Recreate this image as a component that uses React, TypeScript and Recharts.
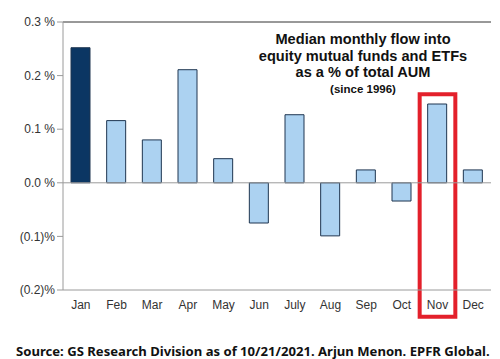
import React from "react"
import { BarChart, Bar, Cell, XAxis, YAxis, ReferenceLine, ReferenceArea } from "recharts"

const months = ["Jan", "Feb", "Mar", "Apr", "May", "Jun", "July", "Aug", "Sep", "Oct", "Nov", "Dec"]
const flows = [0.252, 0.116, 0.08, 0.211, 0.045, -0.075, 0.127, -0.099, 0.024, -0.034, 0.147, 0.024]
const yTicks = [-0.2, -0.1, 0, 0.1, 0.2, 0.3]
const yTickLabels = ["(0.2)%", "(0.1)%", "0.0 %", "0.1 %", "0.2 %", "0.3 %"]
const highlightMonth = "Nov"
const highlightRange = [-0.25, 0.165] // red box extends below the axis

const data = months.map((m, i) => ({ month: m, value: flows[i] }))

const fmtY = (v: number) => {
  const i = yTicks.findIndex((t) => Math.abs(t - v) < 1e-9)
  return i >= 0 ? yTickLabels[i] : ""
}

export default function App() {
  return (
    <div style={{ position: "absolute", left: 0, top: 0, width: 500, height: 359, background: "#fff", fontFamily: "'Liberation Sans', Arial, sans-serif", overflow: "hidden" }}>
      <BarChart width={500} height={359} data={data} margin={{ top: 22, right: 9, bottom: 39, left: 0 }} barSize={19}>
        <XAxis
          dataKey="month"
          axisLine={{ stroke: "#9a9a9a" }}
          tickLine={false}
          tick={{ fill: "#333", fontSize: 12, dy: 2 }}
          height={30}
          interval={0}
        />
        <YAxis
          domain={[-0.2, 0.3]}
          ticks={yTicks}
          tickFormatter={fmtY}
          width={63}
          axisLine={{ stroke: "#9a9a9a" }}
          tickLine={{ stroke: "#9a9a9a" }}
          tick={{ fill: "#333", fontSize: 12 }}
          tickSize={6}
        />
        <YAxis yAxisId="right" orientation="right" width={0} axisLine={{ stroke: "#9a9a9a" }} tick={false} tickLine={false} />
        <ReferenceLine y={0.3} stroke="#333" strokeWidth={1} />
        <ReferenceLine y={0} stroke="#9a9a9a" strokeWidth={1} />
        <Bar dataKey="value" isAnimationActive={false} stroke="#1e3550" strokeWidth={1}>
          {data.map((d, i) => (
            <Cell key={`c-${i}`} fill={i === 0 ? "#0b3663" : "#acd2f1"} />
          ))}
        </Bar>
        <ReferenceArea
          x1={highlightMonth}
          x2={highlightMonth}
          y1={highlightRange[0]}
          y2={highlightRange[1]}
          ifOverflow="visible"
          fill="none"
          stroke="#e3202b"
          strokeWidth={4}
        />
      </BarChart>
      <div
        style={{
          position: "absolute",
          left: 253,
          width: 220,
          top: 31,
          textAlign: "center",
          fontWeight: "bold",
          fontSize: 14.6,
          lineHeight: "16.5px",
          color: "#111",
        }}
      >
        Median monthly flow into
        <br />
        equity mutual funds and ETFs
        <br />
        as a % of total AUM
        <div style={{ fontSize: 11.5, lineHeight: "16px" }}>(since 1996)</div>
      </div>
      <div
        style={{
          position: "absolute",
          left: 16,
          top: 342,
          fontFamily: "'Noto Sans', sans-serif",
          fontWeight: "bold",
          fontSize: 13.1,
          whiteSpace: "nowrap",
          color: "#111",
        }}
      >
        Source: GS Research Division as of 10/21/2021. Arjun Menon. EPFR Global.
      </div>
    </div>
  )
}
